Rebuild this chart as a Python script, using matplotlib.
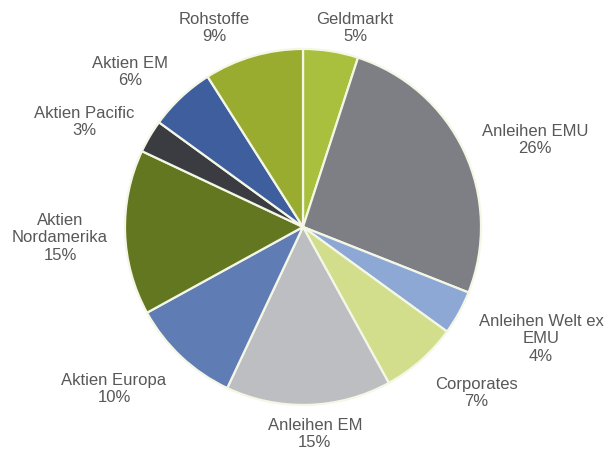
import matplotlib.pyplot as plt

plt.rcParams['font.family'] = ['Liberation Sans', 'DejaVu Sans']

labels = ['Geldmarkt', 'Anleihen EMU', 'Anleihen Welt ex\nEMU', 'Corporates',
          'Anleihen EM', 'Aktien Europa', 'Aktien\nNordamerika', 'Aktien Pacific',
          'Aktien EM', 'Rohstoffe']
shares = [5, 26, 4, 7, 15, 10, 15, 3, 6, 9]
colors = ['#a8c03e', '#7d7f84', '#8ea8d6', '#d3de8c', '#bcbec2',
          '#5f7cb4', '#637620', '#3a3c41', '#3e5e9d', '#9aac30']
# label centres, in pie radii from the centre
label_xy = [(0.292, 1.118), (1.303, 0.489), (1.337, -0.629), (0.972, -0.933),
            (0.067, -1.163), (-1.062, -0.910), (-1.365, -0.062), (-1.230, 0.590),
            (-0.972, 0.871), (-0.500, 1.118)]

fig = plt.figure(figsize=(6.06, 4.5), dpi=100)
ax = fig.add_axes([0, 0, 1, 1])

wedges, _ = ax.pie(shares, startangle=90, counterclock=False, colors=colors,
                   radius=1.0,
                   wedgeprops=dict(edgecolor='#f4f7e6', linewidth=1.6))

for lab, val, (x, y) in zip(labels, shares, label_xy):
    ax.text(x, y, f"{lab}\n{val}%", ha='center', va='center',
            fontsize=12, color='#585858', linespacing=1.2)

ax.set_xlim(-1.702, 1.702)
ax.set_ylim(-1.253, 1.275)
ax.set_aspect('equal')
ax.axis('off')

fig.savefig('out.png', dpi=100)
